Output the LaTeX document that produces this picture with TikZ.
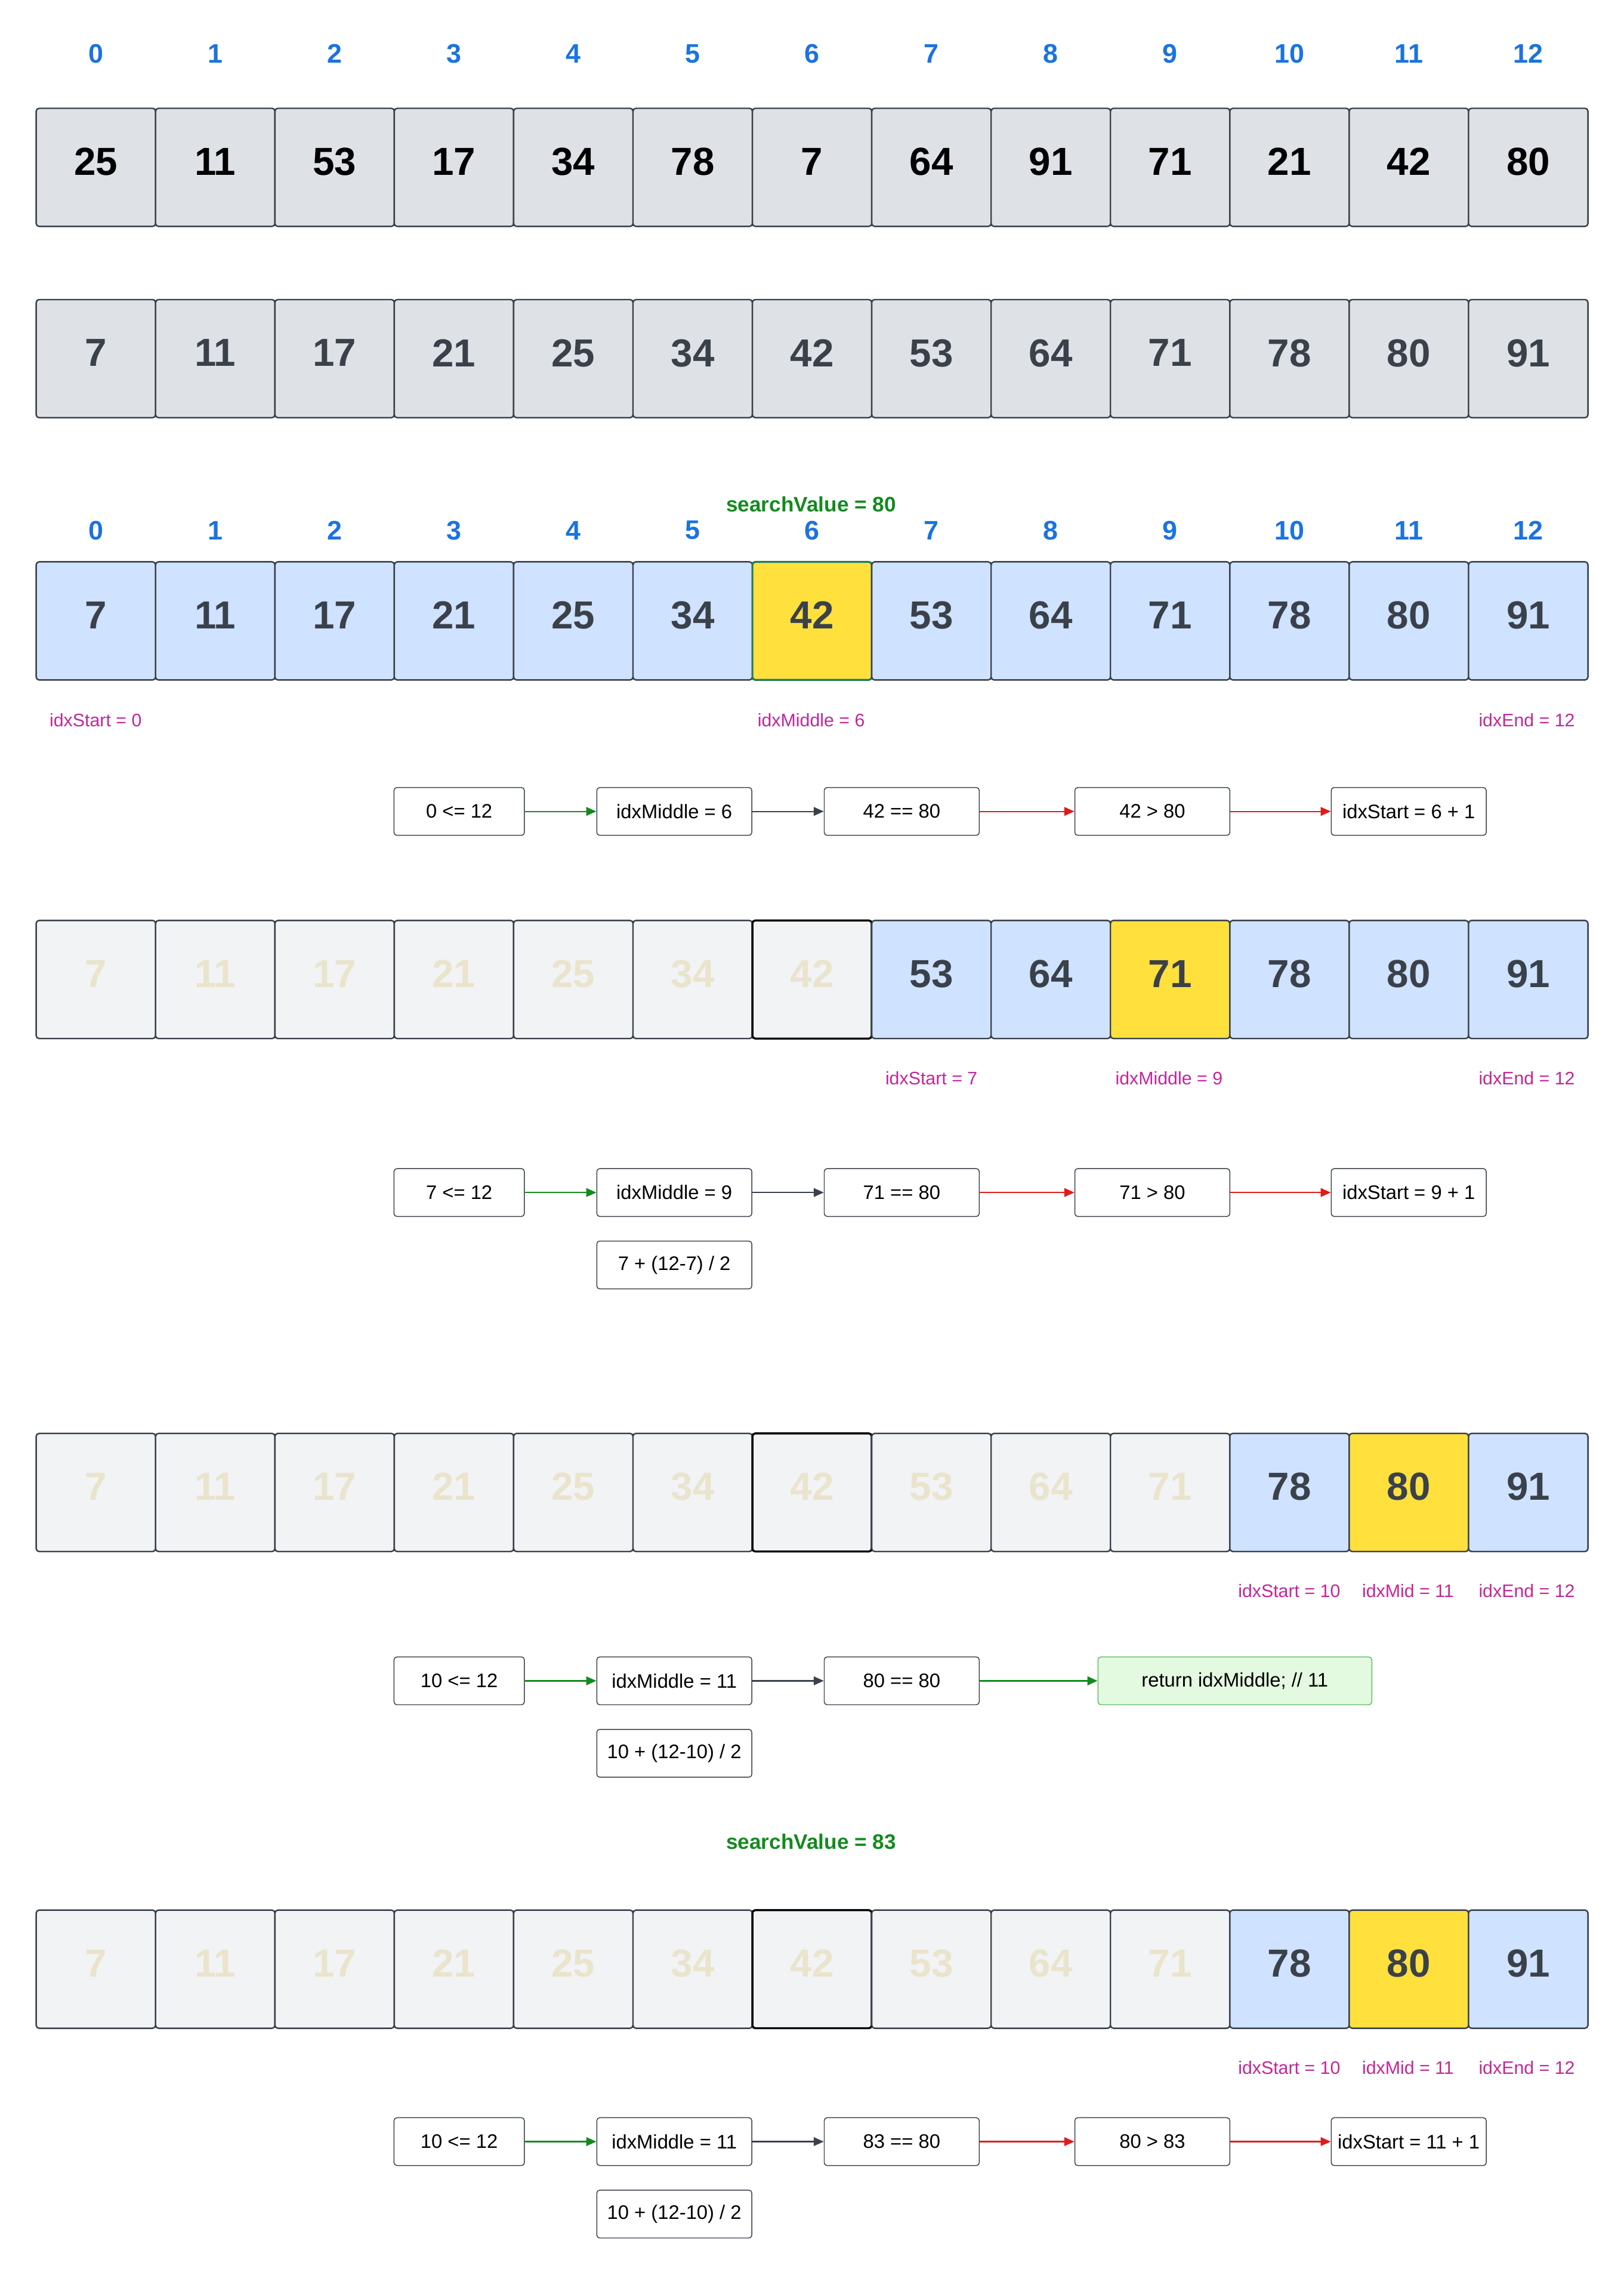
\documentclass[tikz,border=0pt]{standalone}
\usepackage{fontspec}
\setmainfont{Liberation Sans}
\usetikzlibrary{arrows.meta}

\tikzset{
 cell/.style={draw=borderARR, line width=1pt, rounded corners=2pt, minimum width=82.4pt, minimum height=81.5pt, inner sep=0pt, text depth=8pt, font=\fontsize{27}{30}\selectfont\bfseries},
 greycell/.style={cell, fill=greyARR},
 bluecell/.style={cell, fill=blueARR, text=textARR},
 hitcell/.style={cell, fill=yellowARR, text=textARR},
 hitgreencell/.style={hitcell, draw=hitborderARR, line width=1.3pt},
 fadedcell/.style={cell, fill=fadeARR, text=fadetextARR},
 fadedmidcell/.style={fadedcell, draw=black, line width=1.4pt},
 idx/.style={text=idxARR, font=\fontsize{18.5}{20}\selectfont\bfseries},
 search/.style={text=greenARR, font=\fontsize{14.5}{16}\selectfont\bfseries},
 pointer/.style={text=magentaARR, font=\fontsize{12.5}{14}\selectfont},
 flowbox/.style={draw=borderARR, line width=0.6pt, rounded corners=2pt, fill=white, minimum width=107pt, minimum height=33pt, inner sep=1pt, font=\fontsize{13.5}{16}\selectfont},
 testbox/.style={flowbox, minimum width=90pt},
 returnbox/.style={flowbox, fill=returnARR, draw=returnborderARR, minimum width=189pt},
 flowarrow/.style={line width=0.9pt, -{Triangle[length=7pt,width=6pt]}},
}

% one row of the sorted array: y, name, idxStart, idxMiddle, style of the middle cell
\newcommand{\sortedrow}[5]{
 \foreach \v [count=\i from 0] in {7,11,17,21,25,34,42,53,64,71,78,80,91} {
  \ifnum\i<#3 \def\sty{fadedcell}\else\def\sty{bluecell}\fi
  \ifnum\i=#4 \def\sty{#5}\fi
  \ifnum\i=6 \ifnum#3>6 \def\sty{fadedmidcell}\fi\fi
  \node[\sty] (#2c\i) at ({66.2+82.4*\i},#1) {\v};
 }
}

\begin{document}
\begin{tikzpicture}[x=1pt,y=-1pt]

\definecolor{greyARR}{HTML}{DEE1E6}
\definecolor{borderARR}{HTML}{3A414A}
\definecolor{textARR}{HTML}{3A414A}
\definecolor{blueARR}{HTML}{CFE2FF}
\definecolor{yellowARR}{HTML}{FFE03D}
\definecolor{hitborderARR}{HTML}{1F7A5C}
\definecolor{fadeARR}{HTML}{F1F3F5}
\definecolor{fadetextARR}{HTML}{EAE4CC}
\definecolor{idxARR}{HTML}{1A73E0}
\definecolor{greenARR}{HTML}{138A1E}
\definecolor{magentaARR}{HTML}{C4259B}
\definecolor{redARR}{HTML}{E01B1B}
\definecolor{returnARR}{HTML}{E3F9E0}
\definecolor{returnborderARR}{HTML}{5DBB63}

\useasboundingbox (0,0) rectangle (1121,1568);

% unsorted array
\foreach \i in {0,...,12} {
 \node[idx] (ta\i) at ({66.2+82.4*\i},37) {\i};
}
\foreach \v [count=\i from 0] in {25,11,53,17,34,78,7,64,91,71,21,42,80} {
 \node[greycell] (r1c\i) at ({66.2+82.4*\i},115.5) {\v};
}

% sorted array
\foreach \v [count=\i from 0] in {7,11,17,21,25,34,42,53,64,71,78,80,91} {
 \node[greycell, text=textARR] (r2c\i) at ({66.2+82.4*\i},247.5) {\v};
}

% first pass
\node[search] (sv1) at (560,348) {searchValue = 80};
\foreach \i in {0,...,12} {
 \node[idx] (tb\i) at ({66.2+82.4*\i},366) {\i};
}
\sortedrow{428.5}{r3}{0}{6}{hitgreencell}
\node[pointer] (p3s) at (66,497) {idxStart = 0};
\node[pointer] (p3m) at (560,497) {idxMiddle = 6};
\node[pointer] (p3e) at (1054,497) {idxEnd = 12};

\node[testbox] (f1a) at (317,560) {0 <= 12};
\node[flowbox] (f1b) at (465.5,560) {idxMiddle = 6};
\node[flowbox] (f1c) at (622.5,560) {42 == 80};
\node[flowbox] (f1d) at (795.5,560) {42 > 80};
\node[flowbox] (f1e) at (972.5,560) {idxStart = 6 + 1};
\draw[flowarrow, greenARR] (f1a) -- (f1b);
\draw[flowarrow, borderARR] (f1b) -- (f1c);
\draw[flowarrow, redARR] (f1c) -- (f1d);
\draw[flowarrow, redARR] (f1d) -- (f1e);

% second pass
\sortedrow{676}{r4}{7}{9}{hitcell}
\node[pointer] (p4s) at (643,744) {idxStart = 7};
\node[pointer] (p4m) at (807,744) {idxMiddle = 9};
\node[pointer] (p4e) at (1054,744) {idxEnd = 12};

\node[testbox] (f2a) at (317,823) {7 <= 12};
\node[flowbox] (f2b) at (465.5,823) {idxMiddle = 9};
\node[flowbox] (f2c) at (622.5,823) {71 == 80};
\node[flowbox] (f2d) at (795.5,823) {71 > 80};
\node[flowbox] (f2e) at (972.5,823) {idxStart = 9 + 1};
\node[flowbox] (f2f) at (465.5,873) {7 + (12-7) / 2};
\draw[flowarrow, greenARR] (f2a) -- (f2b);
\draw[flowarrow, borderARR] (f2b) -- (f2c);
\draw[flowarrow, redARR] (f2c) -- (f2d);
\draw[flowarrow, redARR] (f2d) -- (f2e);

% third pass
\sortedrow{1030}{r5}{10}{11}{hitcell}
\node[pointer] (p5s) at (890,1098) {idxStart = 10};
\node[pointer] (p5m) at (972,1098) {idxMid = 11};
\node[pointer] (p5e) at (1054,1098) {idxEnd = 12};

\node[testbox] (f3a) at (317,1160) {10 <= 12};
\node[flowbox] (f3b) at (465.5,1160) {idxMiddle = 11};
\node[flowbox] (f3c) at (622.5,1160) {80 == 80};
\node[returnbox] (f3r) at (852.5,1160) {return idxMiddle; // 11};
\node[flowbox] (f3f) at (465.5,1210) {10 + (12-10) / 2};
\draw[flowarrow, greenARR] (f3a) -- (f3b);
\draw[flowarrow, borderARR] (f3b) -- (f3c);
\draw[flowarrow, greenARR, line width=1.4pt] (f3c) -- (f3r);

% value not in the array
\node[search] (sv2) at (560,1271) {searchValue = 83};
\sortedrow{1359}{r6}{10}{11}{hitcell}
\node[pointer] (p6s) at (890,1427) {idxStart = 10};
\node[pointer] (p6m) at (972,1427) {idxMid = 11};
\node[pointer] (p6e) at (1054,1427) {idxEnd = 12};

\node[testbox] (f4a) at (317,1478) {10 <= 12};
\node[flowbox] (f4b) at (465.5,1478) {idxMiddle = 11};
\node[flowbox] (f4c) at (622.5,1478) {83 == 80};
\node[flowbox] (f4d) at (795.5,1478) {80 > 83};
\node[flowbox] (f4e) at (972.5,1478) {idxStart = 11 + 1};
\node[flowbox] (f4f) at (465.5,1528) {10 + (12-10) / 2};
\draw[flowarrow, greenARR] (f4a) -- (f4b);
\draw[flowarrow, borderARR] (f4b) -- (f4c);
\draw[flowarrow, redARR] (f4c) -- (f4d);
\draw[flowarrow, redARR] (f4d) -- (f4e);

\end{tikzpicture}
\end{document}
